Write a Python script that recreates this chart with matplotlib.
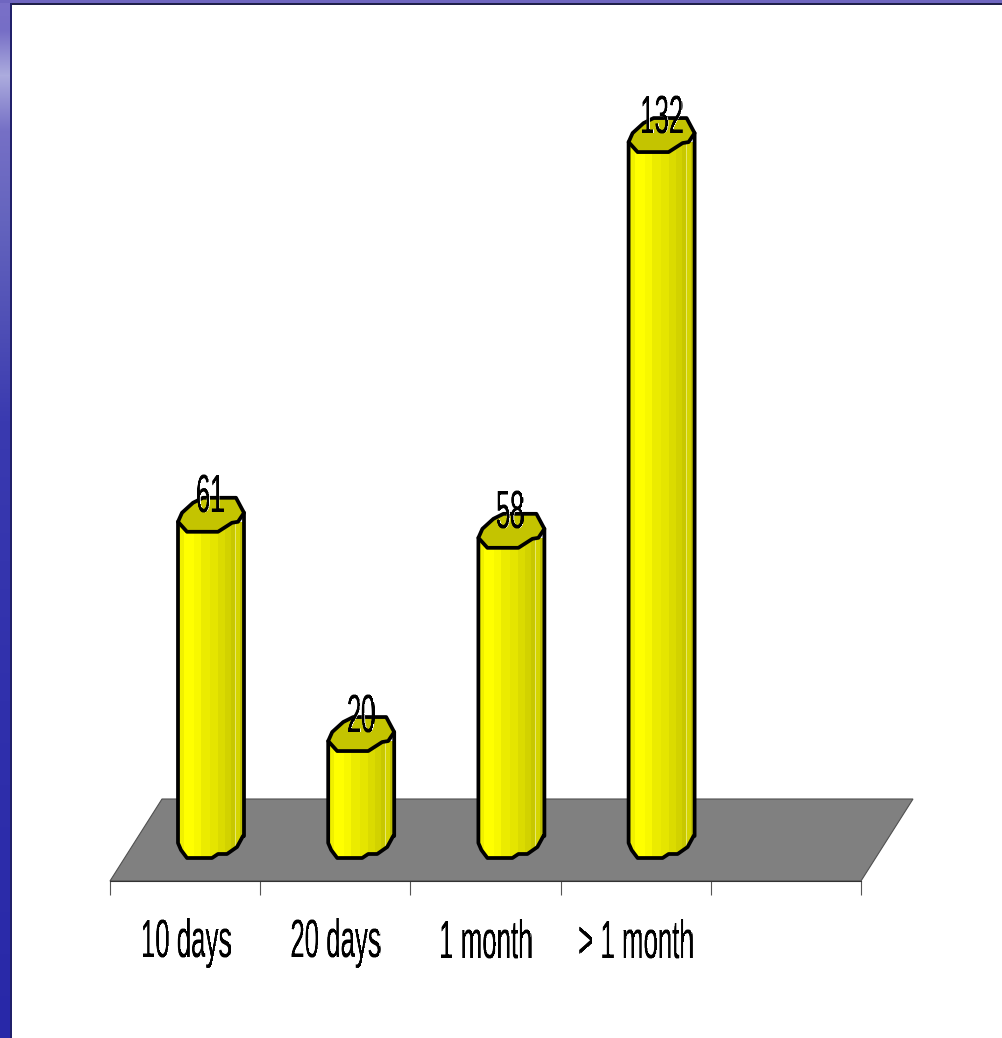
"""Bar chart of cases by duration, drawn as faceted 3-D columns on a grey floor."""
import matplotlib
matplotlib.use("Agg")
import matplotlib.pyplot as plt
import numpy as np
from matplotlib.patches import Polygon

categories = ["10 days", "20 days", "1 month", "> 1 month"]
values = [61, 20, 58, 132]
n_slots = 5

# ── geometry (pixels) ───────────────────────────────────────────────────────
W, H = 1003, 1038
SLOT_X0, SLOT_W = 110, 150.2     # first slot edge and slot width
ZERO_Y, PX_PER_UNIT = 848, 5.348
FLOOR_FRONT, FLOOR_BACK, FLOOR_SKEW = 881, 799, 52
BAR_INSET = 68
BASE_LIFT = 5

# outline of a column end, offsets from its left edge
CAP = [(0, 0), (9, 10), (40, 10), (54, 1), (60, 0), (66, -9),
       (58, -24), (25, -24), (15, -19), (4, -9)]
FOOT = [(0, 0), (3, 7), (9, 15), (34, 15), (40, 11), (49, 11), (59, 4), (65, -7)]
BAR_W = 66

# shading strips across a column
STRIP_EDGES = [0, 6, 16, 23, 32, 40, 47, 53, 57, 62, 66]
STRIP_COLORS = ["#F0F000", "#FFFF00", "#F8F800", "#EBEB00", "#E5E500",
                "#DBDB00", "#D2D200", "#C8C800", "#D5D500", "#C0C000"]
HIGHLIGHT_X = 57
CAP_COLOR = "#C4C400"
FLOOR_COLOR = "#808080"
STRETCH = 0.49    # the labels are set in a very condensed face


def narrow(img, dpi):
    """Squeeze a rendered label horizontally about its centre."""
    h, w = img.shape[:2]
    cx = (w - 1) / 2
    src = cx + (np.arange(w) - cx) / STRETCH
    out = np.zeros_like(img)
    for c in range(img.shape[2]):
        for row in range(h):
            out[row, :, c] = np.interp(src, np.arange(w), img[row, :, c], left=0, right=0)
    # squeezing thins the strokes, so widen them again by a pixel
    out[:, 1:, 3] = np.maximum(out[:, 1:, 3], out[:, :-1, 3])
    return out, 0, 0


def dx(px):
    return (px - SLOT_X0) / SLOT_W


def dy(px):
    return (ZERO_Y - px) / PX_PER_UNIT


plt.rcParams["font.family"] = ["Liberation Sans", "DejaVu Sans"]
fig = plt.figure(figsize=(W / 100, H / 100), dpi=100, facecolor="white")

# slide background: blue strip down the left side and along the top
bg = fig.add_axes([0, 0, 1, 1], zorder=0)
stops_y = [0, 30, 75, 130, 220, 320, 420, 700, 1038]
stops_r = [122, 118, 172, 118, 100, 80, 58, 48, 40]
stops_g = [112, 110, 172, 112, 100, 80, 58, 48, 40]
stops_b = [200, 198, 222, 198, 190, 182, 176, 172, 168]
rows = np.arange(H)
strip = np.stack([np.interp(rows, stops_y, s) for s in (stops_r, stops_g, stops_b)], axis=1)
bg.imshow(strip[:, None, :] / 255, extent=(0, 10, H, 0), aspect="auto")
bg.set_xlim(0, W); bg.set_ylim(H, 0)
bg.add_patch(plt.Rectangle((0, 0), W, 3, color="#6F66C0", lw=0))
bg.add_patch(plt.Rectangle((10, 3), W, 2, color="#20204A", lw=0))
bg.add_patch(plt.Rectangle((10, 3), 2, H, color="#20206A", lw=0))
bg.axis("off")

# chart axes: x in category slots, y in values
ax = fig.add_axes([0, 0, 1, 1], zorder=1)
ax.patch.set_visible(False)
ax.set_xlim(dx(0), dx(W))
ax.set_ylim(dy(H), dy(0))
for name in ("top", "right", "left"):
    ax.spines[name].set_visible(False)
ax.spines["bottom"].set_position(("data", dy(FLOOR_FRONT)))
ax.spines["bottom"].set_bounds(0, n_slots)
ax.spines["bottom"].set_color("#333333")
ax.yaxis.set_visible(False)
ax.set_xticks(range(n_slots + 1))
ax.set_xticklabels([])
ax.tick_params(axis="x", which="major", length=10, width=0.8, color="#555555")
ax.set_xticks([i + 0.5 for i in range(len(categories))], minor=True)
ax.set_xticklabels(categories, minor=True, fontsize=38, color="black")
ax.tick_params(axis="x", which="minor", length=0, pad=27)
for lab in ax.get_xticklabels(minor=True):
    lab.set_agg_filter(narrow)

# floor
floor = [(0, dy(FLOOR_FRONT)), (dx(SLOT_X0 + FLOOR_SKEW), dy(FLOOR_BACK)),
         (n_slots + dx(SLOT_X0 + FLOOR_SKEW), dy(FLOOR_BACK)), (n_slots, dy(FLOOR_FRONT))]
ax.add_patch(Polygon(floor, closed=True, fc=FLOOR_COLOR, ec="#505050", lw=0.8, zorder=1))

# columns
to_x = 1 / SLOT_W
to_y = 1 / PX_PER_UNIT
base = BASE_LIFT * to_y
for i, v in enumerate(values):
    left = i + BAR_INSET * to_x
    outline = [(left, v)]
    outline += [(left + ox * to_x, base - oy * to_y) for ox, oy in FOOT]
    outline += [(left + BAR_W * to_x, base + 7 * to_y), (left + BAR_W * to_x, v + 9 * to_y)]

    clip = Polygon(outline, closed=True, transform=ax.transData, fc="none", ec="none")
    ax.add_patch(clip)
    for x0, x1, color in zip(STRIP_EDGES[:-1], STRIP_EDGES[1:], STRIP_COLORS):
        s = ax.bar(left + x0 * to_x, v + 5, width=(x1 - x0 + 0.5) * to_x, bottom=-5,
                   align="edge", color=color, lw=0, zorder=2)
        s[0].set_clip_path(clip)
    shine = ax.vlines(left + HIGHLIGHT_X * to_x, -5, v, color="#E8E870", lw=0.7, zorder=2)
    shine.set_clip_path(clip)
    ax.add_patch(Polygon(outline, closed=True, fc="none", ec="black", lw=2.7,
                         joinstyle="round", zorder=3))

    cap = [(left + ox * to_x, v - oy * to_y) for ox, oy in CAP]
    ax.add_patch(Polygon(cap, closed=True, fc=CAP_COLOR, ec="black", lw=2.7,
                         joinstyle="round", zorder=4))
    ax.text(left + 32 * to_x, v + 9 * to_y, str(v), ha="center", va="baseline", fontsize=38,
            color="black", zorder=5, agg_filter=narrow)

fig.savefig("out.png", dpi=100, facecolor="white")
